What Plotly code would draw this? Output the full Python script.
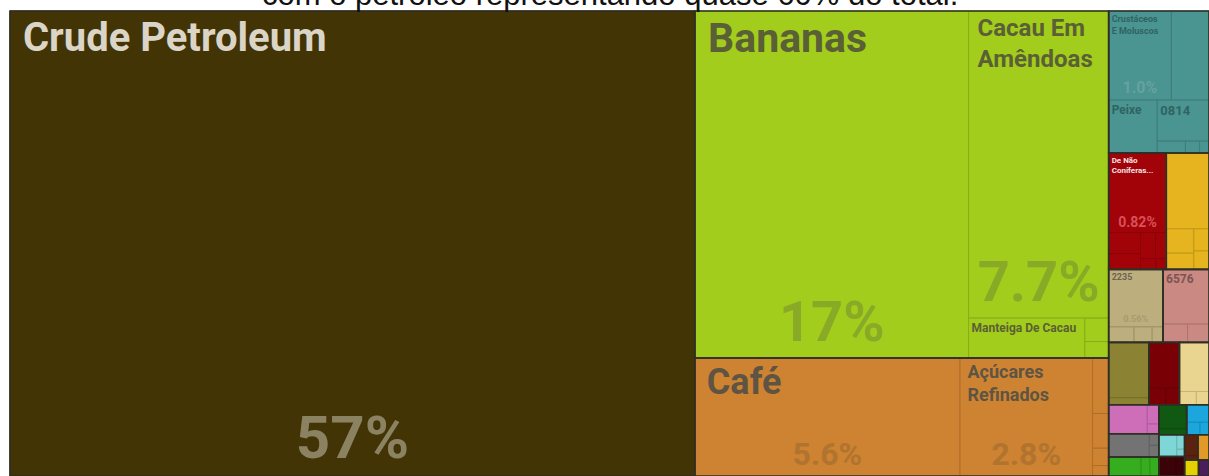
import plotly.graph_objects as go

# ---------------- data ----------------
section_names = [
    "Produtos Minerais", "Produtos Vegetais", "Alimentos", "Produtos Animais",
    "Produtos de Madeira", "Metais", "Minerais", "Têxteis", "Plásticos",
    "Químicos", "Papel", "Calçados", "Máquinas", "Instrumentos",
    "Pedras", "Transporte", "Couro", "Diversos", "Armas", "Arte",
    "Vidro", "Outros",
]
section_colors = [
    "#433406", "#a2cd1c", "#cd8331", "#4a9491",
    "#a10309", "#e5b41f", "#bdae7d", "#ca8982", "#8b8233",
    "#790106", "#e9d58f", "#cf6eb8", "#737373", "#35ad1f",
    "#115813", "#1ba7dd", "#7fd6d6", "#3b0308", "#5c2210", "#e19a27",
    "#e5d000", "#4b1d5a",
]
# label colour and percentage colour used on each section
section_label_colors = [
    "#dad5c7", "#5b5f35", "#5f5443", "#2f6462",
    "#f6e3e3", "#6b5a2a", "#6b6450", "#7b5550", "#4a4520",
    "#e8c8c8", "#6b6248", "#5a3050", "#303030", "#1a4a10",
    "#c8e0c8", "#0b4a66", "#2a6060", "#e0c8c8", "#e0c8c0", "#6b4510",
    "#6b6000", "#e0d0e8",
]
section_pct_colors = [
    "#8b8262", "#88aa27", "#b0742e", "#66a29f",
    "#d8505a", "#c99a1a", "#a79b70", "#b07670", "#76702e",
    "#9a3035", "#cbb977", "#b05a9c", "#909090", "#2c9318",
    "#2e6e30", "#178ec0", "#6cbaba", "#5a2a2e", "#7a4a3a", "#c08020",
    "#c4b200", "#6a4078",
]

product_names = [
    "Crude Petroleum",
    "Bananas", "Cacau Em Amêndoas", "Manteiga De Cacau", "Pasta De Cacau", "Frutas Secas",
    "Café", "Açúcares Refinados", "Melaços", "Conservas De Peixe", "Farinhas", "Sucos",
    "Crustáceos E Moluscos", "Peixe Congelado", "Peixe", "0814", "Farinha De Peixe", "Peixe Seco", "Óleo De Peixe",
    "De Não Coníferas...", "Madeira Serrada", "Compensados", "Folheados", "Madeira Em Bruto", "Carvão Vegetal", "Obras De Madeira",
    "Minério", "Sucata", "Barras", "Fios", "Chapas",
    "2235", "Sementes", "Fibras", "Gomas",
    "6576", "Tecidos", "Fios Têxteis",
    "Artigos De Plástico", "Resinas",
    "Extratos", "Óleos Essenciais", "Sais",
    "Papel", "Cartão", "Livros",
    "Chapéus De Palha", "Calçados", "Sandálias",
    "Máquinas", "Peças", "Motores",
    "Instrumentos", "Ópticos", "Relógios",
    "Pedras", "Joias",
    "Veículos", "Barcos", "Peças De Veículos",
    "Couros", "Peles", "Bolsas",
    "Diversos", "Brinquedos",
    "Armas", "Munições",
    "Obras De Arte",
    "Vidro",
    "Outros",
]
product_sections = [
    0,
    1, 1, 1, 1, 1,
    2, 2, 2, 2, 2, 2,
    3, 3, 3, 3, 3, 3, 3,
    4, 4, 4, 4, 4, 4, 4,
    5, 5, 5, 5, 5,
    6, 6, 6, 6,
    7, 7, 7,
    8, 8,
    9, 9, 9,
    10, 10, 10,
    11, 11, 11,
    12, 12, 12,
    13, 13, 13,
    14, 14,
    15, 15, 15,
    16, 16, 16,
    17, 17,
    18, 18,
    19,
    20,
    21,
]
# share of exports, %
product_values = [
    57.0,
    17.0, 7.7, 0.83, 0.10, 0.07,
    5.6, 2.8, 0.16, 0.10, 0.05, 0.03,
    1.0, 0.60, 0.46, 0.38, 0.06, 0.03, 0.02,
    0.82, 0.12, 0.09, 0.07, 0.05, 0.03, 0.02,
    0.58, 0.12, 0.08, 0.06, 0.05,
    0.56, 0.07, 0.05, 0.03,
    0.45, 0.08, 0.07,
    0.40, 0.05,
    0.25, 0.05, 0.04,
    0.26, 0.04, 0.03,
    0.20, 0.04, 0.02,
    0.17, 0.02, 0.02,
    0.11, 0.03, 0.03,
    0.12, 0.03,
    0.07, 0.03, 0.02,
    0.07, 0.02, 0.01,
    0.06, 0.03,
    0.05, 0.01,
    0.05,
    0.04,
    0.03,
]
# which products carry a visible name / percentage, and at what size
label_display = {
    "Crude Petroleum": ("Crude Petroleum", 40),
    "Bananas": ("Bananas", 41),
    "Cacau Em Amêndoas": ("Cacau Em<br>Amêndoas", 24),
    "Manteiga De Cacau": ("Manteiga De Cacau", 12),
    "Café": ("Café", 36),
    "Açúcares Refinados": ("Açúcares<br>Refinados", 18),
    "Crustáceos E Moluscos": ("Crustáceos<br>E Moluscos", 9),
    "Peixe": ("Peixe", 12),
    "0814": ("0814", 13),
    "De Não Coníferas...": ("De Não<br>Coníferas...", 8),
    "2235": ("2235", 9),
    "6576": ("6576", 12),
}
pct_display = {
    "Crude Petroleum": 60,
    "Bananas": 56,
    "Cacau Em Amêndoas": 56,
    "Café": 32,
    "Açúcares Refinados": 32,
    "Crustáceos E Moluscos": 16,
    "De Não Coníferas...": 14,
    "2235": 9,
}

title_text = "com o petróleo representando quase 60% do total."
FONT = "Roboto, 'Open Sans', sans-serif"


def darker(hex_color, f=0.85):
    h = hex_color.lstrip("#")
    r, g, b = (int(h[i:i + 2], 16) for i in (0, 2, 4))
    return "#%02x%02x%02x" % (int(r * f), int(g * f), int(b * f))


# ---------------- build hierarchy ----------------
section_totals = [0.0] * len(section_names)
for s, v in zip(product_sections, product_values):
    section_totals[s] += v
root_total = sum(section_totals)

ids = ["root"] + ["s%d" % i for i in range(len(section_names))] + \
      ["p%d" % i for i in range(len(product_names))]
labels = ["Total"] + section_names + product_names
parents = [""] + ["root"] * len(section_names) + ["s%d" % s for s in product_sections]
values = [root_total] + section_totals + product_values

fill = ["rgba(0,0,0,0)"] + section_colors + [section_colors[s] for s in product_sections]
line_c = ["rgba(0,0,0,0)"] + section_colors + [darker(section_colors[s]) for s in product_sections]
line_w = [0] + [0] * len(section_names) + [1] * len(product_names)

n_head = 1 + len(section_names)
lab_text, lab_tmpl, lab_size, lab_color = [], [], [], []
pct_tmpl, pct_size, pct_color = [], [], []
for i in range(n_head):
    lab_text.append("")
    lab_tmpl.append("")
    lab_size.append(10)
    lab_color.append("#000")
    pct_tmpl.append("")
    pct_size.append(10)
    pct_color.append("#000")
for name, s in zip(product_names, product_sections):
    if name in label_display:
        txt, sz = label_display[name]
        if sz >= 18:
            txt = "<br>".join("\u00a0" + part for part in txt.split("<br>"))
        lab_text.append(txt)
        lab_tmpl.append("<b>%{text}</b>")
        lab_size.append(sz)
    else:
        lab_text.append("")
        lab_tmpl.append("")
        lab_size.append(10)
    lab_color.append(section_label_colors[s])
    if name in pct_display:
        pct_tmpl.append("<b>%{percentRoot:.2p}</b>")
        pct_size.append(pct_display[name])
    else:
        pct_tmpl.append("")
        pct_size.append(10)
    pct_color.append(section_pct_colors[s])

common = dict(
    ids=ids, labels=labels, parents=parents, values=values,
    branchvalues="total", sort=True,
    tiling=dict(packing="squarify", squarifyratio=1.618034, pad=0),
    pathbar=dict(visible=False),
    root=dict(color="rgba(0,0,0,0)"),
    hoverinfo="label+percent root",
)

fig = go.Figure()
# coloured tiles with product names (top-left)
fig.add_trace(go.Treemap(
    **common,
    marker=dict(colors=fill, line=dict(color=line_c, width=line_w),
                pad=dict(t=0, l=0, r=0, b=0), depthfade=False),
    text=lab_text, texttemplate=lab_tmpl, textposition="top left",
    textfont=dict(family=FONT, size=lab_size, color=lab_color),
))
# percentage shares (bottom-centre)
fig.add_trace(go.Treemap(
    **common,
    marker=dict(colors=["rgba(0,0,0,0)"] * len(ids),
                line=dict(color="rgba(0,0,0,0)", width=0),
                pad=dict(t=0, l=0, r=0, b=0), depthfade=False),
    texttemplate=pct_tmpl, textposition="bottom center",
    textfont=dict(family=FONT, size=pct_size, color=pct_color),
))
# section outlines
sec_ids = ["root"] + ["s%d" % i for i in range(len(section_names))]
fig.add_trace(go.Treemap(
    ids=sec_ids, labels=["Total"] + section_names,
    parents=[""] + ["root"] * len(section_names),
    values=[root_total] + section_totals,
    branchvalues="total", sort=True,
    tiling=dict(packing="squarify", squarifyratio=1.618034, pad=0),
    pathbar=dict(visible=False),
    marker=dict(colors=["rgba(0,0,0,0)"] * len(sec_ids),
                line=dict(color=["rgba(0,0,0,0)"] + ["#2e2e24"] * len(section_names),
                          width=[0] + [1.6] * len(section_names)),
                pad=dict(t=0, l=0, r=0, b=0), depthfade=False),
    texttemplate="", textinfo="none", hoverinfo="skip",
))

fig.add_annotation(
    text=title_text, xref="paper", yref="paper", x=0.5, y=1,
    xanchor="center", yanchor="bottom", yshift=-3, showarrow=False,
    font=dict(family="Liberation Sans, Arial, sans-serif", size=31, color="#111"),
)

fig.update_layout(
    width=1209, height=476,
    margin=dict(l=10, r=0, t=11, b=0),
    paper_bgcolor="white",
    showlegend=False,
)

fig.write_html("out.html")
